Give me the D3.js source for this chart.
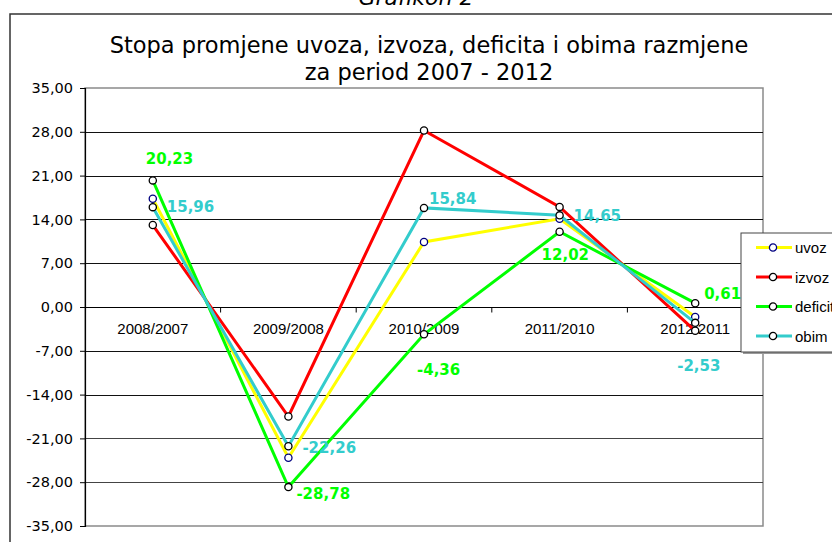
<!DOCTYPE html>
<html>
<head>
<meta charset="utf-8">
<script src="https://cdn.jsdelivr.net/npm/d3@7"></script>
<style>
  body { margin: 0; background: #fff; }
  svg { display: block; }
</style>
</head>
<body>
<svg id="chart" width="832" height="542"></svg>
<script>
// data
let categories = ['2008/2007', '2009/2008', '2010/2009', '2011/2010', '2012/2011']
let uvoz = [17.3, -24.1, 10.4, 14.1, -1.6]
let izvoz = [13.1, -17.5, 28.2, 16.0, -3.8]
let deficit = [20.23, -28.78, -4.36, 12.02, 0.61]
let obim = [15.96, -22.26, 15.84, 14.65, -2.53]
let yTicks = [35, 28, 21, 14, 7, 0, -7, -14, -21, -28, -35]

let series = [
    { name: 'uvoz', values: uvoz, color: '#ffff00', marker: '#000080', labels: false },
    { name: 'izvoz', values: izvoz, color: '#ff0000', marker: '#000', labels: false },
    { name: 'deficit', values: deficit, color: '#00ff00', marker: '#000', labels: true },
    { name: 'obim', values: obim, color: '#33cccc', marker: '#000', labels: true }
]

// where each data label sits relative to its marker (left edge, vertical centre)
let labelOffsets = {
    deficit: [[-7, -21], [8, 7], [-7, 36], [-18, 23], [9, -9]],
    obim: [[14, 0], [14, 2], [5, -9], [14, 1], [-18, 43]]
}

let svg = d3.select('#chart')
let plotLeft = 85, plotRight = 763, plotTop = 88, plotBottom = 526

let x = d3.scaleBand().domain(categories).range([plotLeft, plotRight])
let y = d3.scaleLinear().domain([-35, 35]).range([plotBottom, plotTop])
let fmt = (v) => v.toFixed(2).replace('.', ',')

// outer frame
svg.append('rect')
   .attr('x', 10).attr('y', 14)
   .attr('width', 900).attr('height', 600)
   .attr('fill', 'none')
   .attr('stroke', '#333')
   .attr('stroke-width', 1.5)

// "Grafikon 2" caption, cut by the top edge
svg.append('text')
   .attr('x', 416).attr('y', 5)
   .attr('text-anchor', 'middle')
   .style('font-family', 'DejaVu Sans')
   .style('font-style', 'italic')
   .style('font-size', '22px')
   .text('Grafikon 2')

let title = svg.append('text')
   .attr('text-anchor', 'middle')
   .style('font-family', 'DejaVu Sans')
   .style('font-size', '22.5px')
title.append('tspan').attr('x', 429).attr('y', 53).text('Stopa promjene uvoza, izvoza, deficita i obima razmjene')
title.append('tspan').attr('x', 429).attr('y', 80).text('za period 2007 - 2012')

// plot area
svg.append('rect')
   .attr('x', plotLeft).attr('y', plotTop)
   .attr('width', plotRight - plotLeft).attr('height', plotBottom - plotTop)
   .attr('fill', '#fff')
   .attr('stroke', '#8a8a8a')
   .attr('stroke-width', 1.5)

svg.append('g')
   .selectAll('line')
   .data(yTicks.filter((t) => t !== 35 && t !== -35))
   .enter()
   .append('line')
   .attr('x1', plotLeft).attr('x2', plotRight)
   .attr('y1', (d) => Math.round(y(d)) + 0.5)
   .attr('y2', (d) => Math.round(y(d)) + 0.5)
   .attr('stroke', (d) => d < -14 ? '#444' : '#111')
   .attr('stroke-width', 1)

// y axis
let yAxis = svg.append('g')
   .attr('transform', `translate(${plotLeft},0)`)
   .call(d3.axisLeft(y).tickValues(yTicks).tickSize(5).tickPadding(7).tickFormat(fmt))
yAxis.select('.domain').attr('stroke', '#000').attr('stroke-width', 1.2)
yAxis.selectAll('line').attr('stroke', '#000')
yAxis.selectAll('text')
     .style('font-family', 'DejaVu Sans')
     .style('font-size', '14.5px')
     .attr('fill', '#000')

// category axis on the zero line
let xAxis = svg.append('g')
   .attr('transform', `translate(0,${Math.round(y(0)) + 0.5})`)
xAxis.append('line')
     .attr('x1', plotLeft).attr('x2', plotRight)
     .attr('stroke', '#000')
xAxis.selectAll('.tick')
     .data(categories.slice(1))
     .enter()
     .append('line')
     .attr('class', 'tick')
     .attr('x1', (d) => x(d)).attr('x2', (d) => x(d))
     .attr('y1', 0).attr('y2', 5)
     .attr('stroke', '#000')
xAxis.selectAll('.cat')
     .data(categories)
     .enter()
     .append('text')
     .attr('class', 'cat')
     .attr('x', (d) => x(d) + x.bandwidth() / 2)
     .attr('y', 26)
     .attr('text-anchor', 'middle')
     .style('font-family', 'Liberation Sans')
     .style('font-size', '15px')
     .text((d) => d)

// lines and markers
let cx = (i) => x(categories[i]) + x.bandwidth() / 2
let line = d3.line()
             .x((d, i) => cx(i))
             .y((d) => y(d))

let g = svg.selectAll('.series')
           .data(series)
           .enter()
           .append('g')
           .attr('class', 'series')

g.append('path')
 .attr('d', (d) => line(d.values))
 .attr('fill', 'none')
 .attr('stroke', (d) => d.color)
 .attr('stroke-width', 3)
 .attr('stroke-linejoin', 'miter')

g.each(function (s) {
    d3.select(this)
      .selectAll('circle')
      .data(s.values)
      .enter()
      .append('circle')
      .attr('cx', (d, i) => cx(i))
      .attr('cy', (d) => y(d))
      .attr('r', 3.6)
      .attr('fill', '#fff')
      .attr('stroke', s.marker)
      .attr('stroke-width', 1.3)
})

// data labels for deficit and obim
series.filter((s) => s.labels).forEach((s) => {
    svg.append('g')
       .selectAll('text')
       .data(s.values)
       .enter()
       .append('text')
       .attr('x', (d, i) => cx(i) + labelOffsets[s.name][i][0])
       .attr('y', (d, i) => y(d) + labelOffsets[s.name][i][1])
       .attr('dominant-baseline', 'central')
       .attr('fill', s.color)
       .style('font-family', 'DejaVu Sans')
       .style('font-weight', 'bold')
       .style('font-size', '15px')
       .text((d) => fmt(d))
})

// legend
let legend = svg.append('g')
legend.append('rect')
      .attr('x', 743).attr('y', 235)
      .attr('width', 120).attr('height', 119)
      .attr('fill', '#999')
legend.append('rect')
      .attr('x', 741).attr('y', 233)
      .attr('width', 120).attr('height', 119)
      .attr('fill', '#fff')
      .attr('stroke', '#444')
      .attr('stroke-width', 1)

let item = legend.selectAll('.item')
                 .data(series)
                 .enter()
                 .append('g')
                 .attr('class', 'item')
                 .attr('transform', (d, i) => `translate(0, ${247.5 + i * 29.5})`)
item.append('line')
    .attr('x1', 756).attr('x2', 792)
    .attr('stroke', (d) => d.color)
    .attr('stroke-width', 3)
item.append('circle')
    .attr('cx', 773).attr('r', 3.6)
    .attr('fill', '#fff')
    .attr('stroke', (d) => d.marker)
    .attr('stroke-width', 1.3)
item.append('text')
    .attr('x', 795)
    .attr('dominant-baseline', 'central')
    .style('font-family', 'Liberation Sans')
    .style('font-size', '15px')
    .text((d) => d.name)
</script>
</body>
</html>
